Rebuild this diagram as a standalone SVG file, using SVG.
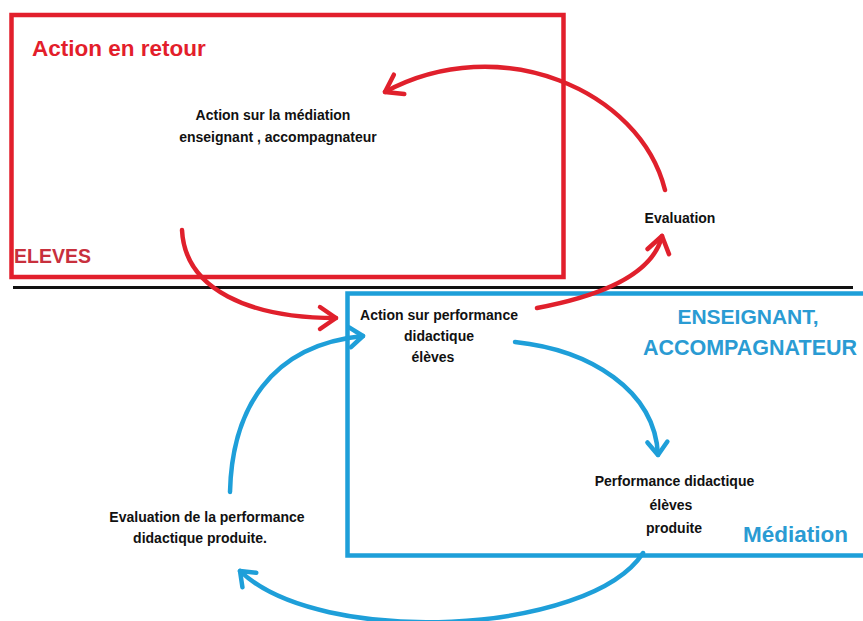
<svg xmlns="http://www.w3.org/2000/svg" width="863" height="621" viewBox="0 0 863 621">
<style>
.t{font-family:"Liberation Sans",Arial,sans-serif;font-weight:bold;font-size:14px;fill:#111;text-anchor:middle}
.red{fill:#e31e2b}
.blue{fill:#2a9bd3}
.rc{fill:none;stroke:#e0202c;stroke-width:4.5;stroke-linecap:round}
.bc{fill:none;stroke:#1e9fd9;stroke-width:4.5;stroke-linecap:round}
</style>
<defs>
<marker id="ar" viewBox="-22 -16 26 32" refX="0" refY="0" markerWidth="26" markerHeight="32" markerUnits="userSpaceOnUse" orient="auto">
<path d="M -16 -11 L 0 0 L -16 11" fill="none" stroke="#e0202c" stroke-width="4.5" stroke-linecap="round" stroke-linejoin="round"/>
</marker>
<marker id="ab" viewBox="-22 -16 26 32" refX="0" refY="0" markerWidth="26" markerHeight="32" markerUnits="userSpaceOnUse" orient="auto">
<path d="M -13 -10 L 0 0 L -13 10" fill="none" stroke="#1e9fd9" stroke-width="4.5" stroke-linecap="round" stroke-linejoin="round"/>
</marker>
</defs>
<rect width="863" height="621" fill="#fff"/>

<g id="eleves-box">
<rect x="11.5" y="15" width="552" height="262" fill="none" stroke="#e21f2c" stroke-width="4.5"/>
<text x="32" y="56" class="t red" style="font-size:22.5px;text-anchor:start">Action en retour</text>
<text x="14" y="263" class="t" style="font-size:19.5px;text-anchor:start;fill:#c8303d">ELEVES</text>
</g>

<line x1="13" y1="287.5" x2="853" y2="287.5" stroke="#111" stroke-width="3"/>

<g id="mediation-box">
<path d="M 866 293.5 L 347.5 293.5 L 347.5 555.5 L 866 555.5" fill="none" stroke="#1e9fd9" stroke-width="4.5"/>
<text x="748" y="324" class="t blue" style="font-size:21px">ENSEIGNANT,</text>
<text x="750" y="355" class="t blue" style="font-size:21.5px">ACCOMPAGNATEUR</text>
<text x="743" y="542" class="t blue" style="font-size:22.5px;text-anchor:start">Médiation</text>
</g>

<g id="action-mediation">
<text x="273" y="120" class="t">Action sur la médiation</text>
<text x="278" y="142" class="t">enseignant , accompagnateur</text>
</g>

<g id="evaluation">
<text x="680" y="223" class="t">Evaluation</text>
</g>

<g id="action-performance">
<text x="439" y="320" class="t">Action sur performance</text>
<text x="439" y="341" class="t">didactique</text>
<text x="433" y="362" class="t">élèves</text>
</g>

<g id="performance-produite">
<text x="674.5" y="486" class="t">Performance didactique</text>
<text x="671" y="510" class="t">élèves</text>
<text x="674" y="533" class="t">produite</text>
</g>

<g id="evaluation-performance">
<text x="207" y="522" class="t">Evaluation de la performance</text>
<text x="200" y="543" class="t">didactique produite.</text>
</g>

<g id="connectors">
<path class="rc" d="M 665 190 C 640 90, 500 30, 385 92" marker-end="url(#ar)"/>
<path class="rc" d="M 182 230 C 185 290, 250 318, 336 318" marker-end="url(#ar)"/>
<path class="rc" d="M 537 308 C 590 298, 652 278, 662 236" marker-end="url(#ar)"/>
<path class="bc" d="M 515 342 C 590 350, 655 390, 658 455" marker-end="url(#ab)"/>
<path class="bc" d="M 230 492 C 232 410, 270 345, 363 336" marker-end="url(#ab)"/>
<path class="bc" d="M 643 553 C 590 635, 320 648, 240 571" marker-end="url(#ab)"/>
</g>
</svg>
